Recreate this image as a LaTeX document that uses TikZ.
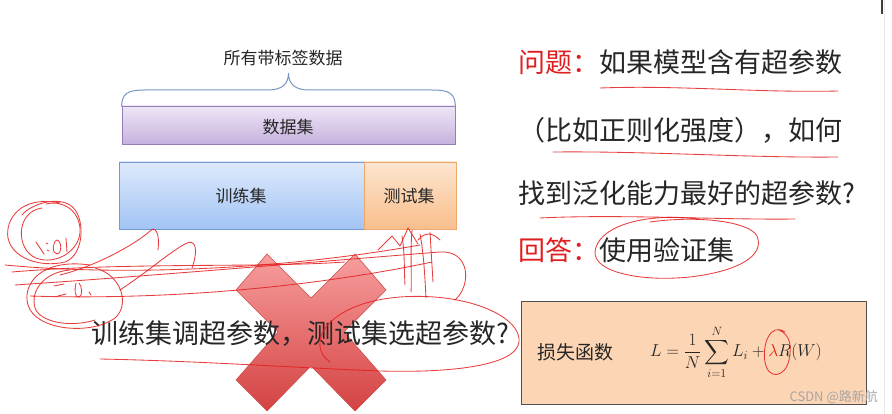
\documentclass[tikz,border=0pt]{standalone}
\usepackage{amsmath}
\usepackage{fontspec}
\newfontfamily\cjk{Noto Sans CJK SC}
\definecolor{qred}{RGB}{224,32,32}
\definecolor{txt}{RGB}{38,38,38}
\definecolor{scr}{RGB}{228,28,28}
\definecolor{pTop}{RGB}{238,230,246}
\definecolor{pBot}{RGB}{198,178,222}
\definecolor{pBrd}{RGB}{150,125,185}
\definecolor{bTop}{RGB}{222,234,252}
\definecolor{bBot}{RGB}{162,196,244}
\definecolor{bBrd}{RGB}{118,152,208}
\definecolor{oTop}{RGB}{253,230,208}
\definecolor{oBot}{RGB}{249,190,140}
\definecolor{oBrd}{RGB}{238,168,108}
\definecolor{braceC}{RGB}{120,150,196}
\definecolor{peach}{RGB}{252,213,180}
\definecolor{xTop}{RGB}{248,158,158}
\definecolor{xBot}{RGB}{212,66,66}
\tikzset{
  smalltxt/.style={inner sep=0pt, text=txt, font=\cjk\fontsize{17}{20}\selectfont},
  bigtxt/.style={inner sep=0pt, anchor=base west, text=txt, font=\cjk\fontsize{27}{32}\selectfont},
  setbox/.style={draw, line width=0.9pt, inner sep=0pt},
  scrib/.style={draw=scr, line width=0.85pt, opacity=0.85, line cap=round, line join=round}
}
\begin{document}
\begin{tikzpicture}[x=1pt,y=-1pt]
\useasboundingbox (0,0) rectangle (892,414);
\fill[white] (0,0) rectangle (892,414);
\draw[draw={rgb,255:red,232;green,232;blue,232}, line width=0.8pt] (884.5,0) -- (884.5,414);
\draw[draw={rgb,255:red,60;green,60;blue,60}, line width=2pt] (882,0) -- (882,14);

% --- left diagram ---
\node[setbox, draw=pBrd, top color=pTop, bottom color=pBot, minimum width=333pt, minimum height=38pt] (ds) at (288.5,125) {};
\node[smalltxt, anchor=base] (dst) at (288,133.5) {数据集};
\node[setbox, draw=bBrd, top color=bTop, bottom color=bBot, minimum width=245pt, minimum height=67pt] (tr) at (241.5,195.5) {};
\node[setbox, draw=oBrd, top color=oTop, bottom color=oBot, minimum width=92pt, minimum height=67pt] (te) at (410,195.5) {};
\node[smalltxt, anchor=base] (trt) at (241,202.5) {训练集};
\node[smalltxt, anchor=base] (tet) at (409,202.5) {测试集};
\node[smalltxt, anchor=base] (all) at (283,64.6) {所有带标签数据};
\coordinate (bl) at ([yshift=-1pt]ds.north west);
\coordinate (br) at ([yshift=-1pt]ds.north east);
\coordinate (bm) at (288.5,73);
\draw[braceC, line width=1pt] (bl) .. controls (122,93) and (128,90) .. (145,90) -- (268,90)
  .. controls (282,90) and (288.5,84) .. (bm)
  .. controls (288.5,84) and (295,90) .. (309,90) -- (432,90)
  .. controls (449,90) and (455,93) .. (br);

% --- big X ---
\draw[draw={rgb,255:red,205;green,80;blue,80}, line width=0.6pt, top color=xTop, bottom color=xBot]
  (267,254) -- (311,298) -- (355,254) -- (386,290) -- (344,332) -- (386,380) -- (355,411)
  -- (311,366) -- (267,411) -- (236,380) -- (278,332) -- (236,290) -- cycle;

\node[bigtxt] (q) at (91,343.3) {训练集调超参数，测试集选超参数?};

% --- right text ---
\node[bigtxt] (l1) at (518,72.3) {{\color{qred}问题：}如果模型含有超参数};
\node[bigtxt] (l2) at (518,140.3) {（比如正则化强度），如何};
\node[bigtxt] (l3) at (518,203.3) {找到泛化能力最好的超参数?};
\node[bigtxt] (l4) at (518,260.3) {{\color{qred}回答：}使用验证集};

% --- loss box ---
\node[draw={rgb,255:red,80;green,80;blue,80}, line width=1pt, fill=peach, minimum width=345pt, minimum height=103pt, inner sep=0pt] (loss) at (693.5,352.5) {};
\node[inner sep=0pt, anchor=base, text=txt, font=\cjk\fontsize{19}{22}\selectfont] (lt) at (575,359) {损失函数};
\node[inner sep=0pt, text=txt, font=\fontsize{17.5}{21}\selectfont] (lf) at (736,352) {$\displaystyle L=\frac{1}{N}\sum_{i=1}^{N}L_i+{\color{qred}\lambda}R(W)$};
\node[inner sep=0pt, anchor=east, text={rgb,255:red,165;green,165;blue,165}, font=\cjk\fontsize{13}{15}\selectfont] (wm) at (878,397) {CSDN @路新航};

% --- handwritten red annotations ---
\draw[scrib] (600,88) .. controls (680,85) and (760,93) .. (838,91);
\draw[scrib] (553,152) .. controls (650,151) and (750,158) .. (838,157);
\draw[scrib] (540,218) .. controls (620,214) and (720,220) .. (795,219);
\draw[scrib] (700,219) .. controls (640,212) and (597,228) .. (595,252) .. controls (594,272) and (640,282) .. (690,277)
  .. controls (740,271) and (765,255) .. (757,236) .. controls (750,222) and (700,215) .. (650,222);
\draw[scrib] (785,332) .. controls (770,322) and (762,345) .. (765,362) .. controls (768,380) and (785,378) .. (789,360)
  .. controls (792,345) and (790,335) .. (779,330);
% ellipse round the question
\draw[scrib] (330,362) .. controls (305,345) and (325,303) .. (400,297) .. controls (470,292) and (522,318) .. (519,342)
  .. controls (516,366) and (450,373) .. (380,371) .. controls (300,368) and (200,361) .. (100,359);
% left loops
\draw[scrib] (60,203) .. controls (20,195) and (5,220) .. (8,238) .. controls (12,258) and (40,268) .. (65,262)
  .. controls (85,255) and (86,215) .. (70,205) .. controls (55,196) and (30,205) .. (22,215);
\draw[scrib] (42,208) .. controls (15,212) and (16,250) .. (36,258) .. controls (56,266) and (82,250) .. (80,228)
  .. controls (78,208) and (60,200) .. (46,204);
\draw[scrib] (90,265) .. controls (40,258) and (22,285) .. (28,305) .. controls (35,330) and (90,336) .. (115,318)
  .. controls (130,305) and (122,275) .. (95,268);
\draw[scrib] (70,270) .. controls (45,272) and (30,290) .. (35,308) .. controls (40,322) and (70,328) .. (95,320);
% small handwritten marks inside loops
\draw[scrib] (36,242) -- (44,254);
\draw[scrib] (46,243) -- (48,244);
\draw[scrib] (47,250) -- (49,251);
\draw[scrib] (57,240) .. controls (52,242) and (52,254) .. (57,254) .. controls (62,254) and (62,241) .. (57,240);
\draw[scrib] (66,238) -- (67,252);
\draw[scrib] (54,286) -- (64,284);
\draw[scrib] (58,296) -- (66,294);
\draw[scrib] (76,283) .. controls (74,290) and (75,298) .. (79,297) .. controls (83,296) and (82,286) .. (79,283);
\draw[scrib] (89,292) -- (91,295);
% hooks and long swooshes
\draw[scrib] (60,275) .. controls (100,265) and (138,242) .. (150,231) .. controls (155,226) and (160,232) .. (158,250);
\draw[scrib] (120,290) .. controls (150,270) and (170,252) .. (185,244) .. controls (195,238) and (199,248) .. (192,268);
\draw[scrib] (5,265) .. controls (120,276) and (280,270) .. (420,245);
\draw[scrib] (15,285) .. controls (150,276) and (300,263) .. (440,252) .. controls (470,250) and (472,285) .. (455,300);
\draw[scrib] (30,296) .. controls (150,300) and (300,290) .. (432,262);
\draw[scrib] (12,272) .. controls (130,262) and (260,268) .. (345,262);
% strokes near the test-set box
\draw[scrib] (378,250) -- (392,236) -- (400,246) -- (408,228) -- (418,244);
\draw[scrib] (402,236) .. controls (405,255) and (404,270) .. (405,285);
\draw[scrib] (412,230) .. controls (410,255) and (412,275) .. (411,292);
\draw[scrib] (420,234) .. controls (424,255) and (425,280) .. (426,298);
\draw[scrib] (430,232) .. controls (431,250) and (432,265) .. (433,282);
\draw[scrib] (418,240) .. controls (425,232) and (432,232) .. (440,240);
\end{tikzpicture}
\end{document}
